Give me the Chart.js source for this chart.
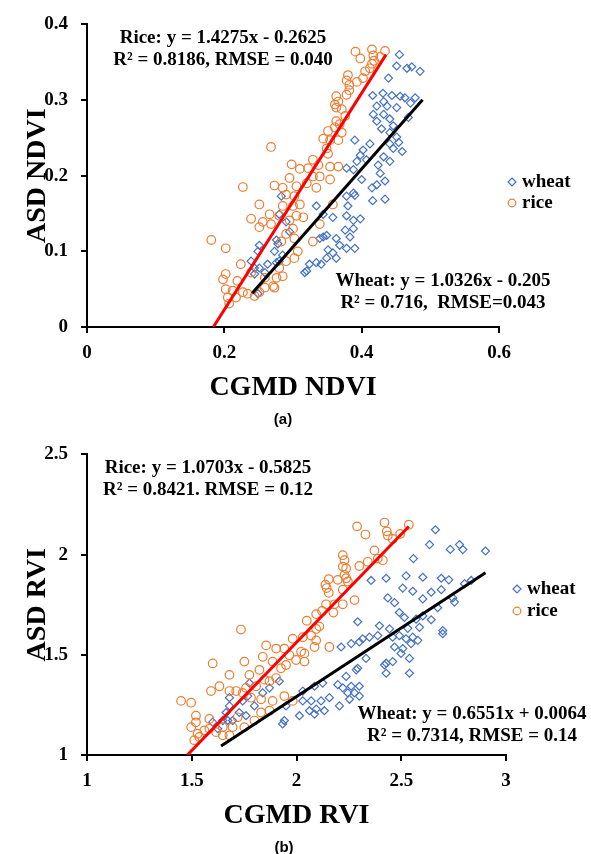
<!DOCTYPE html>
<html>
<head>
<meta charset="utf-8">
<script src="https://cdn.jsdelivr.net/npm/chart.js@4.4.0/dist/chart.umd.min.js"></script>
<style>
  body { margin: 0; background: #fff; }
  #page { position: relative; width: 591px; height: 854px; overflow: hidden; background: #fff; }
  canvas { position: absolute; left: 0; }
  .eq {
    position: absolute;
    font: bold 19px 'Liberation Serif', 'Times New Roman', serif;
    line-height: 22px;
    text-align: center;
    white-space: pre;
    color: #000;
    transform: translateX(-50%);
  }
  .cap {
    position: absolute;
    font: bold 15px 'Liberation Sans', Arial, sans-serif;
    color: #000;
    transform: translate(-50%, -50%);
  }
</style>
</head>
<body>
<div id="page">
  <canvas id="chart-a" width="591" height="420" style="top:0"></canvas>
  <canvas id="chart-b" width="591" height="424" style="top:430px"></canvas>

  <div class="eq" style="left:223px; top:26px">Rice: y = 1.4275x - 0.2625
R² = 0.8186, RMSE = 0.040</div>
  <div class="eq" style="left:443px; top:269px">Wheat: y = 1.0326x - 0.205
R² = 0.716,  RMSE=0.043</div>
  <div class="cap" style="left:283px; top:418px">(a)</div>

  <div class="eq" style="left:208px; top:456px">Rice: y = 1.0703x - 0.5825
R² = 0.8421. RMSE = 0.12</div>
  <div class="eq" style="left:472px; top:702px">Wheat: y = 0.6551x + 0.0064
R² = 0.7314, RMSE = 0.14</div>
  <div class="cap" style="left:284px; top:846px">(b)</div>
</div>

<script>
// ---------- (a) NDVI data ----------
const wheatAX = [0.455,0.451,0.466,0.473,0.485, 0.439,0.416,0.431,0.444,0.456, 0.463,0.478,0.471,0.432,0.422,
  0.437,0.451,0.417,0.432,0.441, 0.422,0.446,0.468,0.429,0.441, 0.451,0.454,0.390,0.412,0.441,
  0.446,0.459,0.402,0.398,0.407, 0.393,0.432,0.441,0.424,0.378, 0.388,
  0.400,0.422,0.434,0.427,0.415, 0.388,0.434,0.416,0.378,0.390, 0.334,0.344,0.358,0.380,0.378,
  0.388,0.398,0.376,0.388,0.383, 0.344,0.339,0.349,0.363,0.351, 0.358,0.363,0.349,0.378,0.390,
  0.368,0.334,0.324,0.320,0.341, 0.317,0.295,0.290,0.280,0.283, 0.276,0.273,0.278,0.251,0.249,
  0.244,0.251,0.259,0.263,0.280, 0.285,0.276,0.244,0.249,0.239];
const wheatAY = [0.360,0.345,0.342,0.344,0.338, 0.329,0.306,0.309,0.306,0.305, 0.303,0.303,0.296,0.298,0.292,
  0.292,0.290,0.281,0.281,0.275, 0.272,0.266,0.277,0.262,0.257, 0.251,0.244,0.247,0.242,0.242,
  0.236,0.232,0.234,0.227,0.221, 0.219,0.225,0.219,0.214,0.210, 0.208,
  0.195,0.188,0.193,0.203,0.184, 0.177,0.169,0.167,0.173,0.174, 0.160,0.149,0.145,0.160,0.147,
  0.141,0.143,0.128,0.130,0.119, 0.119,0.117,0.121,0.117,0.102, 0.098,0.091,0.091,0.104,0.104,
  0.108,0.085,0.083,0.074,0.083, 0.072,0.126,0.139,0.149,0.173, 0.115,0.100,0.110,0.108,0.100,
  0.078,0.078,0.072,0.083,0.087, 0.095,0.085,0.070,0.044,0.087];

const riceAX = [0.391,0.398,0.415,0.417,0.418, 0.434,0.427,0.415,0.412,0.405, 0.380,0.378,0.382,0.393,0.402,
  0.382,0.378,0.363,0.366,0.361, 0.363,0.371,0.376,0.363,0.368, 0.361,0.371,0.351,0.344,0.354,
  0.366,0.349,0.351,0.268,0.298, 0.310,0.322,0.329,0.337,0.354, 0.366,
  0.329,0.339,0.354,0.320,0.334, 0.227,0.273,0.285,0.295,0.305, 0.290,0.302,0.310,0.300,0.285,
  0.280,0.266,0.268,0.256,0.251, 0.239,0.251,0.305,0.315,0.295, 0.300,0.290,0.302,0.283,0.307,
  0.302,0.290,0.280,0.285,0.276, 0.271,0.259,0.251,0.244,0.234, 0.227,0.217,0.212,0.219,0.202,
  0.198,0.202,0.205,0.207,0.224, 0.202,0.181,0.339,0.329,0.358, 0.273,0.259,0.239];
const riceAY = [0.364,0.355,0.367,0.359,0.352, 0.365,0.357,0.348,0.342,0.338, 0.333,0.326,0.320,0.324,0.329,
  0.313,0.307,0.305,0.298,0.294, 0.290,0.288,0.279,0.272,0.268, 0.264,0.257,0.259,0.249,0.247,
  0.247,0.236,0.229,0.238,0.215, 0.209,0.210,0.221,0.214,0.212, 0.212,
  0.199,0.199,0.195,0.190,0.184, 0.185,0.187,0.184,0.197,0.186, 0.175,0.173,0.162,0.160,0.160,
  0.147,0.149,0.136,0.139,0.132, 0.143,0.162,0.147,0.145,0.141, 0.130,0.123,0.117,0.113,0.100,
  0.091,0.087,0.078,0.067,0.065, 0.054,0.052,0.046,0.041,0.044, 0.046,0.039,0.048,0.061,0.070,
  0.063,0.050,0.039,0.031,0.083, 0.104,0.115,0.136,0.113,0.162, 0.052,0.065,0.072];

// fitted lines, end points as drawn
const riceFitAX = [0.184, 0.4355];
const riceFitAY = [0.0, 0.360];
const wheatFitAX = [0.2405, 0.4887];
const wheatFitAY = [0.0445, 0.3005];

const xTicksA = [0, 0.2, 0.4, 0.6];
const xLabelsA = ['0', '0.2', '0.4', '0.6'];
const yTicksA = [0, 0.1, 0.2, 0.3, 0.4];
const yLabelsA = ['0', '0.1', '0.2', '0.3', '0.4'];

// ---------- (b) RVI data ----------
const wheatBX = [2.663,2.635,2.734,2.778,2.794, 2.902,2.558,2.356,2.428,2.523, 2.603,2.691,2.727,2.834,2.802,
  2.507,2.555,2.643,2.691,2.436, 2.468,2.491,2.515,2.603,2.746, 2.754,2.674,2.603,2.571,2.643,
  2.292,2.396,2.587,2.531,2.444, 2.698,
  2.388,2.348,2.316,2.300,2.261, 2.213,2.459,2.491,2.523,2.555, 2.579,2.547,2.468,2.507,2.499,
  2.539,2.428,2.459,2.420,2.428, 2.539,2.698,2.332,2.292,2.285, 2.237,2.197,2.221,2.261,2.300,
  2.245,2.277,2.253,2.300,2.157, 2.125,2.086,2.030,2.030,2.070, 2.094,2.062,2.014,2.086,2.133,
  2.117,1.950,1.942,1.934,2.205, 1.918,1.871,1.839,1.775,1.767, 1.743,1.799,1.680,1.664,1.672,
  1.727,1.759,1.680,1.624,1.695, 1.648,1.600];
const wheatBY = [2.124,2.050,2.026,2.050,2.025, 2.018,1.980,1.871,1.882,1.894, 1.887,1.882,1.874,1.871,1.855,
  1.833,1.817,1.812,1.825,1.784, 1.760,1.711,1.686,1.779,1.784, 1.763,1.735,1.694,1.678,1.675,
  1.665,1.645,1.637,1.632,1.629, 1.621,
  1.596,1.588,1.580,1.564,1.556, 1.539,1.588,1.596,1.580,1.588, 1.572,1.556,1.539,1.531,1.507,
  1.482,1.458,1.466,1.449,1.408, 1.408,1.605,1.482,1.433,1.425, 1.392,1.351,1.335,1.343,1.343,
  1.310,1.310,1.278,1.294,1.286, 1.359,1.343,1.319,1.270,1.270, 1.229,1.221,1.196,1.204,1.221,
  1.270,1.245,1.172,1.155,1.245, 1.368,1.335,1.310,1.359,1.294, 1.270,1.245,1.245,1.212,1.172,
  1.212,1.196,1.286,1.131,1.172, 1.172,1.164];

const riceBX = [2.289,2.329,2.420,2.431,2.436, 2.459,2.495,2.536,2.372,2.340, 2.300,2.388,2.412,2.221,2.229,
  2.221,2.237,2.229,2.237,2.245, 2.197,2.154,2.138,2.144,2.154, 2.221,2.277,2.221,2.181,2.141,
  2.122,2.176,2.094,2.049,2.109, 2.094,1.735,
  1.982,2.030,2.070,2.094,2.157, 2.086,2.022,2.038,1.903,1.942, 1.966,1.855,1.839,1.886,1.950,
  1.926,1.998,2.038,1.751,1.600, 1.680,1.775,1.823,1.847,1.871, 1.903,1.807,1.759,1.712,1.680,
  1.632,1.592,1.743,1.783,1.831, 1.886,1.942,1.982,1.871,1.831, 1.799,1.751,1.695,1.648,1.680,
  1.648,1.616,1.584,1.560,1.528, 1.536,1.512,1.497,1.520,1.584, 1.497,1.449,1.520,1.719];
const riceBY = [2.141,2.100,2.160,2.116,2.095, 2.078,2.103,2.149,2.021,1.964, 1.943,1.980,1.972,1.997,1.972,
  1.940,1.931,1.899,1.882,1.866, 1.874,1.877,1.850,1.833,1.809, 1.825,1.773,1.752,1.752,1.752,
  1.719,1.711,1.703,1.670,1.642, 1.629,1.626,
  1.580,1.588,1.596,1.572,1.539, 1.539,1.515,1.507,1.531,1.531, 1.498,1.547,1.490,1.466,1.449,
  1.433,1.474,1.466,1.466,1.457, 1.400,1.400,1.425,1.376,1.368, 1.384,1.343,1.335,1.319,1.319,
  1.343,1.319,1.310,1.286,1.278, 1.270,1.294,1.270,1.221,1.212, 1.172,1.139,1.139,1.139,1.098,
  1.098,1.114,1.131,1.123,1.106, 1.090,1.074,1.139,1.163,1.180, 1.261,1.270,1.196,1.188];

const riceFitBX = [1.479, 2.536];
const riceFitBY = [1.0, 2.14];
const wheatFitBX = [1.64, 2.902];
const wheatFitBY = [1.045, 1.91];

const xTicksB = [1, 1.5, 2, 2.5, 3];
const xLabelsB = ['1', '1.5', '2', '2.5', '3'];
const yTicksB = [1, 1.5, 2, 2.5];
const yLabelsB = ['1', '1.5', '2', '2.5'];

// ---------- common style ----------
const serif = "'Liberation Serif', 'Times New Roman', serif";
const colors = {
  wheat: '#4472C4',
  rice: '#ED7D31',
  riceFit: '#FF0000',
  wheatFit: '#000000'
};

function toPoints(xs, ys) {
  return xs.map((x, i) => ({ x: x, y: ys[i] }));
}

// small legend to the right of the plot
const sideLegend = {
  id: 'sideLegend',
  afterDraw(chart, args, opts) {
    const ctx = chart.ctx;
    ctx.save();
    opts.items.forEach((name, i) => {
      const ds = chart.data.datasets.find(d => d.label === name);
      const x = chart.chartArea.right + opts.dx;
      const y = opts.y + i * opts.gap;
      ctx.strokeStyle = ds.borderColor;
      ctx.lineWidth = ds.borderWidth;
      ctx.beginPath();
      if (ds.pointStyle === 'rectRot') {
        const r = 4;
        ctx.moveTo(x, y - r);
        ctx.lineTo(x + r, y);
        ctx.lineTo(x, y + r);
        ctx.lineTo(x - r, y);
        ctx.closePath();
      } else {
        ctx.arc(x, y, 3.8, 0, Math.PI * 2);
      }
      ctx.stroke();
      ctx.fillStyle = '#000';
      ctx.font = 'bold 19px ' + serif;
      ctx.textAlign = 'left';
      ctx.textBaseline = 'middle';
      ctx.fillText(name, x + 10, y);
    });
    ctx.restore();
  }
};

function axis(min, max, ticks, labels, title, isX, titlePad) {
  return {
    type: 'linear',
    min: min,
    max: max,
    afterBuildTicks: s => { s.ticks = ticks.map(v => ({ value: v })); },
    afterFit: s => { if (isX) { s.height = 78; } else { s.width = 87; } },
    grid: { drawOnChartArea: false, drawTicks: true, tickLength: 6, color: '#000', lineWidth: 2 },
    border: { display: true, color: '#000', width: 2 },
    ticks: {
      color: '#000',
      autoSkip: false,
      maxRotation: 0,
      padding: isX ? 9 : 13,
      font: { family: serif, size: 19, weight: 'bold' },
      callback: (v, i) => labels[i]
    },
    title: {
      display: true,
      text: title,
      color: '#000',
      font: { family: serif, size: 28, weight: 'bold' },
      padding: titlePad
    }
  };
}

function makeChart(id, cfg) {
  return new Chart(document.getElementById(id), {
    type: 'scatter',
    data: {
      datasets: [
        {
          label: 'wheatFit', type: 'line', data: toPoints(cfg.wheatFitX, cfg.wheatFitY),
          borderColor: colors.wheatFit, borderWidth: 3, pointRadius: 0, fill: false, order: 0
        },
        {
          label: 'riceFit', type: 'line', data: toPoints(cfg.riceFitX, cfg.riceFitY),
          borderColor: colors.riceFit, borderWidth: 3, pointRadius: 0, fill: false, order: 1
        },
        {
          label: 'rice', data: toPoints(cfg.riceX, cfg.riceY),
          pointStyle: 'circle', pointRadius: 4.3, borderColor: colors.rice,
          backgroundColor: 'rgba(0,0,0,0)', borderWidth: 1.2, order: 2
        },
        {
          label: 'wheat', data: toPoints(cfg.wheatX, cfg.wheatY),
          pointStyle: 'rectRot', pointRadius: 4, borderColor: colors.wheat,
          backgroundColor: 'rgba(0,0,0,0)', borderWidth: 1.2, order: 3
        }
      ]
    },
    options: {
      responsive: false,
      animation: false,
      events: [],
      layout: { padding: cfg.padding },
      scales: {
        x: axis(cfg.xMin, cfg.xMax, cfg.xTicks, cfg.xLabels, cfg.xTitle, true, { top: 0, bottom: 0 }),
        y: axis(cfg.yMin, cfg.yMax, cfg.yTicks, cfg.yLabels, cfg.yTitle, false, { top: 21, bottom: 0 })
      },
      plugins: {
        legend: { display: false },
        tooltip: { enabled: false },
        sideLegend: cfg.legend
      }
    },
    plugins: [sideLegend]
  });
}

makeChart('chart-a', {
  wheatX: wheatAX, wheatY: wheatAY, riceX: riceAX, riceY: riceAY,
  riceFitX: riceFitAX, riceFitY: riceFitAY, wheatFitX: wheatFitAX, wheatFitY: wheatFitAY,
  xMin: 0, xMax: 0.6, xTicks: xTicksA, xLabels: xLabelsA, xTitle: 'CGMD NDVI',
  yMin: 0, yMax: 0.4, yTicks: yTicksA, yLabels: yLabelsA, yTitle: 'ASD NDVI',
  padding: { top: 18, right: 92, bottom: 15, left: 0 },
  legend: { items: ['wheat', 'rice'], dx: 13, y: 182, gap: 21 }
});

makeChart('chart-b', {
  wheatX: wheatBX, wheatY: wheatBY, riceX: riceBX, riceY: riceBY,
  riceFitX: riceFitBX, riceFitY: riceFitBY, wheatFitX: wheatFitBX, wheatFitY: wheatFitBY,
  xMin: 1, xMax: 3, xTicks: xTicksB, xLabels: xLabelsB, xTitle: 'CGMD RVI',
  yMin: 1, yMax: 2.5, yTicks: yTicksB, yLabels: yLabelsB, yTitle: 'ASD RVI',
  padding: { top: 19, right: 85, bottom: 21, left: 0 },
  legend: { items: ['wheat', 'rice'], dx: 11, y: 159, gap: 22 }
});
</script>
</body>
</html>
